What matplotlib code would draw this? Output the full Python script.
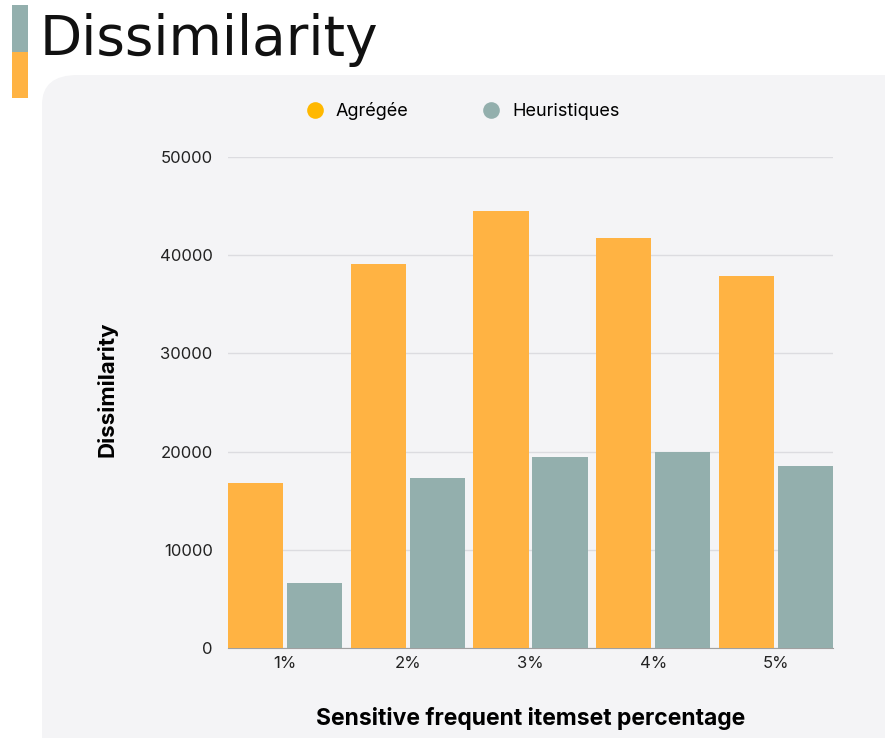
import matplotlib.pyplot as plt
import numpy as np
from matplotlib.patches import FancyBboxPatch, Rectangle
from matplotlib.lines import Line2D

plt.rcParams['font.family'] = ['Inter', 'DejaVu Sans']

categories = ['1%', '2%', '3%', '4%', '5%']
agregee = [16800, 39100, 44500, 41800, 37900]
heuristiques = [6600, 17300, 19400, 20000, 18500]

ORANGE = '#FFB343'
GRAY = '#93AFAD'
PANEL = '#F4F4F6'

fig = plt.figure(figsize=(8.85, 7.38), dpi=100)
W, H = 885, 738

# rounded panel behind the chart
panel = FancyBboxPatch((42 / W, -0.05), 1.0, (738 - 75) / H + 0.05,
                       boxstyle='round,pad=0,rounding_size=0.04',
                       transform=fig.transFigure, facecolor=PANEL,
                       edgecolor='none', zorder=-10)
fig.patches.append(panel)

# colour tab beside the title
fig.patches.append(Rectangle((12 / W, 1 - 52 / H), 16 / W, 47 / H,
                             transform=fig.transFigure, facecolor=GRAY,
                             edgecolor='none', zorder=-10))
fig.patches.append(Rectangle((12 / W, 1 - 98 / H), 16 / W, 46 / H,
                             transform=fig.transFigure, facecolor=ORANGE,
                             edgecolor='none', zorder=-10))
fig.text(40 / W, 1 - 40 / H, 'Dissimilarity', fontsize=39.5, va='center',
         ha='left', color='#111111', family='DejaVu Sans')

ax = fig.add_axes([228 / W, 1 - 648 / H, (833 - 228) / W, (648 - 157) / H])
ax.set_facecolor(PANEL)
ax.set_zorder(1)

x = np.arange(len(categories))
w = 0.45
ax.bar(x - 0.24, agregee, w, color=ORANGE, zorder=3)
ax.bar(x + 0.24, heuristiques, w, color=GRAY, zorder=3)

ax.set_xlim(-0.465, 4.465)
ax.set_ylim(0, 50000)
ax.set_yticks(range(0, 50001, 10000))
ax.set_xticks(x)
ax.set_xticklabels(categories)
ax.yaxis.grid(True, color='#DCDCE0', linewidth=1)
ax.set_axisbelow(True)
for s in ['top', 'right', 'left']:
    ax.spines[s].set_visible(False)
ax.spines['bottom'].set_color('#A0A0A0')
ax.tick_params(axis='both', length=0, labelsize=12, colors='#222222')
ax.tick_params(axis='y', pad=11)
ax.tick_params(axis='x', pad=6)

ax.set_xlabel('Sensitive frequent itemset percentage', fontsize=16.5,
              fontweight='bold', labelpad=26)
ax.set_ylabel('Dissimilarity', fontsize=16, fontweight='bold')
ax.yaxis.set_label_coords(-0.183, 0.526)

handles = [Line2D([], [], marker='o', linestyle='', markersize=12,
                  markerfacecolor='#FFB800', markeredgecolor='none'),
           Line2D([], [], marker='o', linestyle='', markersize=12,
                  markerfacecolor=GRAY, markeredgecolor='none')]
fig.legend(handles, ['Agrégée', 'Heuristiques'], loc='center',
           bbox_to_anchor=(458 / W, 1 - 111 / H), ncol=2, frameon=False,
           fontsize=13, columnspacing=3.6, handletextpad=0.15)

fig.savefig('out.png', dpi=100)
